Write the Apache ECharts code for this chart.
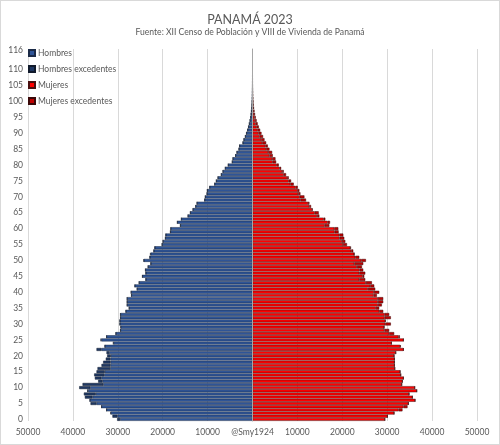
<!DOCTYPE html>
<html>
<head>
<meta charset="utf-8">
<script src="https://cdn.jsdelivr.net/npm/echarts@6/dist/echarts.min.js"></script>
<style>
  html, body { margin: 0; padding: 0; background: #fff; }
  #main { width: 500px; height: 445px; box-sizing: border-box; border: 1px solid #d9d9d9; }
</style>
</head>
<body>
<div id="main"></div>
<script>
// edades 0..116
var ages = [];
for (var a = 0; a <= 116; a++) ages.push(String(a));

// etiquetas visibles del eje de edades
var ageLabels = ['0', '5', '10', '15', '20', '25', '30', '35', '40', '45', '50', '55',
    '60', '65', '70', '75', '80', '85', '90', '95', '100', '105', '110', '116'];

var hombres = [
    30150, 31190, 31640, 32520, 33630, 36070, 36220, 37330, 37550, 36810,
    38590, 37850, 34370, 35110, 35260, 34740, 34520, 33630, 33260, 32670,
    32370, 32520, 34740, 32890, 31040, 33850, 32520, 30450, 29410, 29410,
    29560, 29560, 29410, 29410, 28220, 27480, 27930, 27930, 27930, 26960,
    27040, 25700, 26220, 25260, 23780, 24520, 23780, 23850, 23260, 22670,
    24220, 22890, 22810, 22000, 21780, 20150, 19930, 19410, 19330, 18290,
    18220, 16070, 16740, 15850, 14370, 13850, 13260, 12670, 12370, 10670,
    10520, 10150, 10070, 9550, 8440, 8070, 7700, 6960, 6590, 6070,
    5410, 4520, 4370, 3780, 3480, 3040, 2890, 2150, 1930, 1600,
    1350, 1100, 900, 720, 560, 430, 330, 250, 180, 130,
    95, 60, 40, 28, 18, 12, 8, 6, 4, 3,
    2, 1, 1, 1, 1, 1, 1
];

var mujeres = [
    29480, 30070, 31550, 33400, 34520, 34740, 36220, 35630, 34890, 36590,
    36140, 33250, 33400, 33630, 33030, 32890, 31700, 31630, 31630, 31630,
    31550, 31920, 33630, 33030, 30960, 33630, 32810, 31550, 30440, 29330,
    30810, 29700, 30810, 30440, 29110, 28220, 28810, 29110, 29110, 27700,
    28220, 27330, 27110, 26590, 25110, 24890, 25110, 24670, 24370, 24670,
    25260, 23780, 22670, 22440, 21930, 21040, 20670, 20440, 20220, 19180,
    19110, 17110, 17260, 16220, 14890, 14740, 13410, 13040, 12670, 11920,
    11560, 10670, 10440, 10070, 9180, 8590, 8070, 7480, 6960, 6370,
    5850, 5260, 5110, 4520, 4370, 3780, 3410, 3040, 2670, 2350,
    2000, 1700, 1400, 1150, 920, 720, 560, 430, 320, 240,
    170, 110, 70, 45, 28, 18, 12, 8, 5, 3,
    2, 1, 1, 1, 1, 1, 1
];

var hBase = [], hExc = [], mBase = [], mExc = [];
for (var i = 0; i < ages.length; i++) {
    var lo = Math.min(hombres[i], mujeres[i]);
    hBase.push(-lo);
    hExc.push(-(hombres[i] - lo));
    mBase.push(lo);
    mExc.push(mujeres[i] - lo);
}

var font = 'Lato, "Liberation Sans", sans-serif';
var grey = '#595959';

var option = {
    animation: false,
    textStyle: { fontFamily: font },
    title: {
        text: 'PANAMÁ 2023',
        subtext: 'Fuente: XII Censo de Población y VIII de Vivienda de Panamá',
        left: 'center',
        top: 7,
        itemGap: 2,
        textStyle: { fontFamily: font, fontSize: 12.5, fontWeight: 'normal', color: grey },
        subtextStyle: { fontFamily: font, fontSize: 8.6, color: grey }
    },
    legend: {
        orient: 'vertical',
        left: 27,
        top: 46,
        padding: 0,
        icon: 'rect',
        itemWidth: 6,
        itemHeight: 6,
        itemGap: 4,
        textStyle: { fontFamily: font, fontSize: 8.5, color: grey, lineHeight: 12, padding: [0, 0, 0, -2] },
        data: ['Hombres', 'Hombres excedentes', 'Mujeres', 'Mujeres excedentes']
    },
    grid: {
        left: 27,
        right: 22,
        top: 48,
        bottom: 23
    },
    xAxis: {
        type: 'value',
        min: -50000,
        max: 50000,
        interval: 10000,
        axisLine: { show: false },
        axisTick: { show: false },
        splitLine: { lineStyle: { color: '#d9d9d9', width: 1 } },
        axisLabel: {
            color: grey,
            fontSize: 8.5,
            fontFamily: font,
            margin: 7,
            formatter: function (v) {
                return v === 0 ? '@Smy1924' : String(Math.abs(v));
            }
        }
    },
    yAxis: [{
        type: 'category',
        data: ages,
        axisLine: { show: false, onZero: false },
        axisTick: { show: false },
        axisLabel: {
            color: grey,
            fontSize: 8.5,
            fontFamily: font,
            margin: 5,
            interval: function (idx, val) {
                return ageLabels.indexOf(val) >= 0;
            }
        }
    }, {
        type: 'category',
        data: ages,
        position: 'left',
        z: 10,
        axisLine: { show: true, onZero: true, lineStyle: { color: '#a6a6a6', width: 1 } },
        axisTick: { show: false },
        axisLabel: { show: false }
    }],
    series: [{
        name: 'Hombres',
        type: 'bar',
        stack: 'h',
        barGap: '-100%',
        barCategoryGap: '8%',
        itemStyle: { color: '#2f5597', borderColor: '#1b2a47', borderWidth: 0.5 },
        data: hBase
    }, {
        name: 'Hombres excedentes',
        type: 'bar',
        stack: 'h',
        itemStyle: { color: '#1f3864', borderColor: '#111a2c', borderWidth: 0.5 },
        data: hExc
    }, {
        name: 'Mujeres',
        type: 'bar',
        stack: 'm',
        itemStyle: { color: '#ff0000', borderColor: '#4a0f0f', borderWidth: 0.5 },
        data: mBase
    }, {
        name: 'Mujeres excedentes',
        type: 'bar',
        stack: 'm',
        itemStyle: { color: '#c00000', borderColor: '#3a0808', borderWidth: 0.5 },
        data: mExc
    }]
};

var chart = echarts.init(document.getElementById('main'));
chart.setOption(option);
</script>
</body>
</html>
